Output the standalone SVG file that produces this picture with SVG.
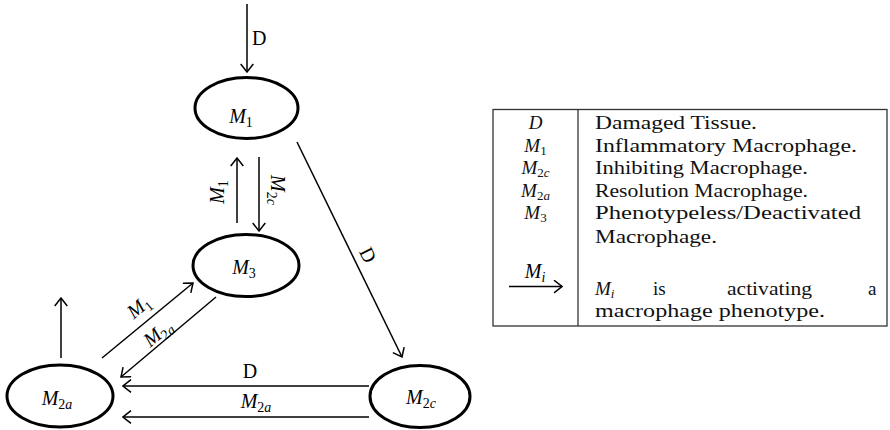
<svg xmlns="http://www.w3.org/2000/svg" width="890" height="430" viewBox="0 0 890 430">
<style>
.node ellipse{fill:#fff;stroke:#000;stroke-width:3}
.edge{fill:none;stroke:#000;stroke-width:1.5;marker-end:url(#ah)}
.lab{font-family:"Liberation Serif","Times New Roman",serif;font-size:20px;fill:#000}
.it{font-style:italic}
.sub{font-size:14px}
.leg{font-family:"Liberation Serif","Times New Roman",serif;font-size:19px;fill:#111}
.tbl{fill:none;stroke:#333;stroke-width:1.3}
</style>
<defs>
<marker id="ah" viewBox="0 0 10 14" refX="9" refY="7" markerWidth="10" markerHeight="14" markerUnits="userSpaceOnUse" orient="auto">
<path d="M1,0.7 L9,7 L1,13.3" fill="none" stroke="#000" stroke-width="1.5"/>
</marker>
</defs>

<g id="node-M1" class="node">
<ellipse cx="246.5" cy="108" rx="51.5" ry="30.5"/>
<text class="lab" x="241" y="123" text-anchor="middle"><tspan class="it">M</tspan><tspan class="sub" dy="4">1</tspan></text>
</g>
<g id="node-M3" class="node">
<ellipse cx="246" cy="265.5" rx="53" ry="31"/>
<text class="lab" x="244" y="274" text-anchor="middle"><tspan class="it">M</tspan><tspan class="sub" dy="4">3</tspan></text>
</g>
<g id="node-M2a" class="node">
<ellipse cx="60" cy="396" rx="53" ry="31"/>
<text class="lab" x="57" y="405" text-anchor="middle"><tspan class="it">M</tspan><tspan class="sub" dy="4">2</tspan><tspan class="sub it">a</tspan></text>
</g>
<g id="node-M2c" class="node">
<ellipse cx="420" cy="396.5" rx="50" ry="31"/>
<text class="lab" x="421" y="404" text-anchor="middle"><tspan class="it">M</tspan><tspan class="sub" dy="4">2</tspan><tspan class="sub it">c</tspan></text>
</g>

<g id="connectors">
<line class="edge" x1="247" y1="4" x2="247" y2="72"/>
<text class="lab" x="252" y="45">D</text>

<line class="edge" x1="237" y1="223" x2="237" y2="158"/>
<text class="lab" transform="translate(224,192) rotate(-90)" text-anchor="middle"><tspan class="it">M</tspan><tspan class="sub" dy="4">1</tspan></text>
<line class="edge" x1="259" y1="157" x2="259" y2="231"/>
<text class="lab" transform="translate(271,190) rotate(90)" text-anchor="middle"><tspan class="it">M</tspan><tspan class="sub" dy="4">2</tspan><tspan class="sub it">c</tspan></text>

<line class="edge" x1="297" y1="142" x2="402" y2="357"/>
<text class="lab" transform="translate(362,258) rotate(64)" text-anchor="middle">D</text>

<line class="edge" x1="369" y1="386" x2="123" y2="386"/>
<text class="lab" x="250" y="378" text-anchor="middle">D</text>
<line class="edge" x1="369" y1="417" x2="123" y2="417"/>
<text class="lab" x="256" y="408" text-anchor="middle"><tspan class="it">M</tspan><tspan class="sub" dy="4">2</tspan><tspan class="sub it">a</tspan></text>

<line class="edge" x1="61" y1="358" x2="61" y2="298"/>

<line class="edge" x1="102" y1="358" x2="193" y2="283"/>
<text class="lab" transform="translate(143,312) rotate(-39.5)" text-anchor="middle"><tspan class="it">M</tspan><tspan class="sub" dy="4">1</tspan></text>
<line class="edge" x1="216" y1="297" x2="121" y2="377"/>
<text class="lab" transform="translate(162,338) rotate(-40)" text-anchor="middle"><tspan class="it">M</tspan><tspan class="sub" dy="4">2</tspan><tspan class="sub it">a</tspan></text>
</g>

<g id="legend">
<rect class="tbl" x="493" y="109.5" width="394" height="216.5"/>
<line class="tbl" x1="578" y1="109.5" x2="578" y2="326"/>
<text class="leg it" x="535.5" y="129" text-anchor="middle">D</text>
<text class="leg" x="535.5" y="151.6" text-anchor="middle"><tspan class="it">M</tspan><tspan font-size="13" dy="3">1</tspan></text>
<text class="leg" x="535.5" y="174.2" text-anchor="middle"><tspan class="it">M</tspan><tspan font-size="13" dy="3">2</tspan><tspan font-size="13" class="it">c</tspan></text>
<text class="leg" x="535.5" y="196.8" text-anchor="middle"><tspan class="it">M</tspan><tspan font-size="13" dy="3">2</tspan><tspan font-size="13" class="it">a</tspan></text>
<text class="leg" x="535.5" y="219.4" text-anchor="middle"><tspan class="it">M</tspan><tspan font-size="13" dy="3">3</tspan></text>

<text class="leg" x="595" y="129" textLength="162" lengthAdjust="spacingAndGlyphs">Damaged Tissue.</text>
<text class="leg" x="595" y="151.6" textLength="262" lengthAdjust="spacingAndGlyphs">Inflammatory Macrophage.</text>
<text class="leg" x="595" y="174.2" textLength="213" lengthAdjust="spacingAndGlyphs">Inhibiting Macrophage.</text>
<text class="leg" x="595" y="196.8" textLength="213" lengthAdjust="spacingAndGlyphs">Resolution Macrophage.</text>
<text class="leg" x="595" y="219.4" textLength="266" lengthAdjust="spacingAndGlyphs">Phenotypeless/Deactivated</text>
<text class="leg" x="595" y="243" textLength="122" lengthAdjust="spacingAndGlyphs">Macrophage.</text>

<line x1="509" y1="286.5" x2="562" y2="286.5" stroke="#000" stroke-width="1.4" marker-end="url(#ah)"/>
<text class="lab" x="535" y="278" text-anchor="middle"><tspan class="it">M</tspan><tspan class="sub it" dy="4">i</tspan></text>

<text class="leg" x="595" y="295"><tspan class="it">M</tspan><tspan font-size="13" class="it" dy="3">i</tspan></text>
<text class="leg" x="653" y="295">is</text>
<text class="leg" x="727" y="295" textLength="85" lengthAdjust="spacingAndGlyphs">activating</text>
<text class="leg" x="868" y="295">a</text>
<text class="leg" x="595" y="317" textLength="230" lengthAdjust="spacingAndGlyphs">macrophage phenotype.</text>
</g>
</svg>
